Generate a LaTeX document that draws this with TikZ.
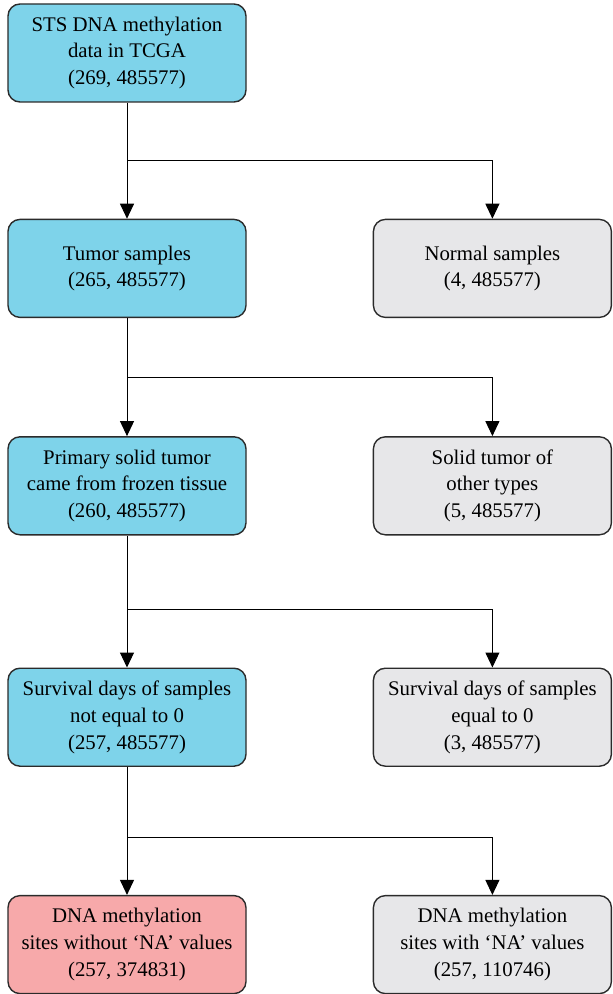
\documentclass[tikz,border=0pt]{standalone}
\usepackage{fontspec}
\setmainfont{Liberation Serif}
\usetikzlibrary{arrows.meta,calc,positioning}
\definecolor{stblue}{HTML}{7ED3EA}
\definecolor{stgray}{HTML}{E7E7E9}
\definecolor{stpink}{HTML}{F7A9AA}
\definecolor{stline}{HTML}{2B2B2B}
\begin{document}
\begin{tikzpicture}[
    node distance=63pt,
    box/.style={draw=stline,line width=0.7pt,rounded corners=6pt,minimum height=49pt,
      minimum width=119pt,align=center,font=\fontsize{10.4}{13.4}\selectfont},
    flow/.style={-{Triangle[length=7.5pt,width=7pt]},line width=0.5pt,draw=black}
  ]
    \useasboundingbox (0,0) rectangle (306pt,-497pt);
    % left column
    \node[box,fill=stblue] (raw) at (63.5pt,-26.5pt) {STS DNA methylation\\data in TCGA\\(269, 485577)};
    \node[box,fill=stblue,below=58pt of raw] (tum) {Tumor samples\\(265, 485577)};
    \node[box,fill=stblue,below=59pt of tum] (prim) {Primary solid tumor\\came from frozen tissue\\(260, 485577)};
    \node[box,fill=stblue,below=66pt of prim] (surv) {Survival days of samples\\not equal to 0\\(257, 485577)};
    \node[box,fill=stpink,below=64pt of surv] (keep) {DNA methylation\\sites without `NA' values\\(257, 374831)};
    % right column
    \node[box,fill=stgray,right=of tum] (norm) {Normal samples\\(4, 485577)};
    \node[box,fill=stgray,right=of prim] (other) {Solid tumor of\\other types\\(5, 485577)};
    \node[box,fill=stgray,right=of surv] (zero) {Survival days of samples\\equal to 0\\(3, 485577)};
    \node[box,fill=stgray,right=of keep] (drop) {DNA methylation\\sites with `NA' values\\(257, 110746)};
    % connectors
    \draw[flow] (raw)--(tum);
    \draw[flow] ($(raw.south)!0.5!(tum.north)$) -| (norm.north);
    \draw[flow] (tum)--(prim);
    \draw[flow] ($(tum.south)!0.5!(prim.north)$) -| (other.north);
    \draw[flow] (prim)--(surv);
    \draw[flow] ($(prim.south)!0.56!(surv.north)$) -| (zero.north);
    \draw[flow] (surv)--(keep);
    \draw[flow] ($(surv.south)!0.55!(keep.north)$) -| (drop.north);
  \end{tikzpicture}
\end{document}
